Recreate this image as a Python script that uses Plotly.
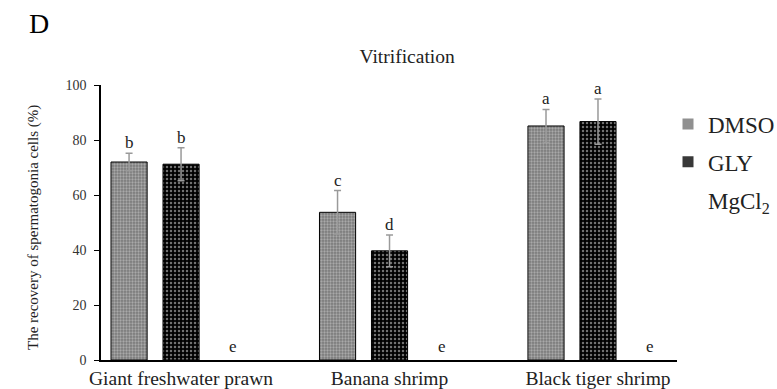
import plotly.graph_objects as go

categories = ["Giant freshwater prawn", "Banana shrimp", "Black tiger shrimp"]
dmso = [72.0, 53.7, 85.1]
dmso_err = [3.2, 7.9, 6.0]
gly = [71.2, 39.7, 86.7]
gly_err = [6.0, 5.8, 8.2]
mgcl2 = [0, 0, 0]
letters_dmso = ["b", "c", "a"]
letters_gly = ["b", "d", "a"]
letters_mgcl2 = ["e", "e", "e"]
y_ticks = [0, 20, 40, 60, 80, 100]

SERIF = "Liberation Serif, Times New Roman, serif"

fig = go.Figure()
fig.add_trace(go.Bar(
    name="DMSO", x=categories, y=dmso, showlegend=False,
    error_y=dict(type="data", array=dmso_err, color="#9a9a9a", thickness=1.5, width=3.5),
    marker=dict(color="#8a8a8a", line=dict(color="black", width=1),
                pattern=dict(shape=".", bgcolor="#7a7a7a", fgcolor="#d8d8d8", size=3, solidity=0.45)),
))
fig.add_trace(go.Bar(
    name="GLY", x=categories, y=gly, showlegend=False,
    error_y=dict(type="data", array=gly_err, color="#9a9a9a", thickness=1.5, width=3.5),
    marker=dict(color="black", line=dict(color="black", width=1),
                pattern=dict(shape=".", bgcolor="black", fgcolor="#e0e0e0", size=4, solidity=0.3)),
))
fig.add_trace(go.Bar(
    name="MgCl2", x=categories, y=mgcl2, showlegend=False,
    marker=dict(color="white", line=dict(color="white", width=0)),
))

# legend entries
for nm, col, grp in [("DMSO", "#909090", "a"), ("GLY", "#383838", "b"), ("MgCl<sub>2</sub>", "rgba(0,0,0,0)", "c")]:
    fig.add_trace(go.Scatter(x=[None], y=[None], mode="markers", name=nm, legendgroup=grp,
                             marker=dict(symbol="square", size=11, color=col, line=dict(width=0))))

ann = []
shifts = [-52, 0, 52]
lf = dict(family=SERIF, size=17, color="#222")
for i, c in enumerate(categories):
    ann.append(dict(x=c, y=dmso[i] + dmso_err[i], text=letters_dmso[i], xshift=shifts[0], yshift=-1,
                    yanchor="bottom", showarrow=False, font=lf))
    ann.append(dict(x=c, y=gly[i] + gly_err[i], text=letters_gly[i], xshift=shifts[1], yshift=-1,
                    yanchor="bottom", showarrow=False, font=lf))
    ann.append(dict(x=c, y=mgcl2[i], text=letters_mgcl2[i], xshift=shifts[2], yshift=2,
                    yanchor="bottom", showarrow=False, font=lf))

ann.append(dict(xref="paper", yref="paper", x=-0.107, y=(360 - 23.5) / 275, text="D", showarrow=False,
                xanchor="center", yanchor="middle", font=dict(family=SERIF, size=28, color="black")))
ann.append(dict(xref="paper", yref="paper", x=-0.118, y=0.48, text="The recovery of spermatogonia cells (%)",
                textangle=-90, showarrow=False, xanchor="center", yanchor="middle",
                font=dict(family=SERIF, size=15, color="#222")))

fig.update_layout(
    width=777, height=389,
    margin=dict(l=101, r=100, t=85, b=29, autoexpand=False),
    paper_bgcolor="white", plot_bgcolor="white",
    barmode="group", bargap=0.252, bargroupgap=0.305,
    title=dict(text="Vitrification", x=0.524, xref="container", xanchor="center",
               y=1 - 56 / 389, yref="container", yanchor="middle",
               font=dict(family=SERIF, size=19.5, color="#222")),
    showlegend=True,
    legend=dict(x=(668 - 101) / 576, xanchor="left", y=(360 - 102.5) / 275, yanchor="top",
                font=dict(family=SERIF, size=23, color="#222"),
                tracegroupgap=5, itemwidth=30, bgcolor="rgba(0,0,0,0)"),
    xaxis=dict(range=[-0.384, 2.379], showline=True, linecolor="black", linewidth=1.5, ticks="",
               tickfont=dict(family=SERIF, size=19.5, color="#222"), showgrid=False, zeroline=False,
               automargin=False),
    yaxis=dict(range=[0, 100], tickvals=y_ticks, showline=True, linecolor="black", linewidth=1.5,
               ticks="outside", ticklen=5, tickcolor="black", tickwidth=1, ticklabelstandoff=5,
               tickfont=dict(family=SERIF, size=14, color="#333"), showgrid=False, zeroline=False,
               automargin=False),
    annotations=ann,
)

fig.write_html("out.html")
